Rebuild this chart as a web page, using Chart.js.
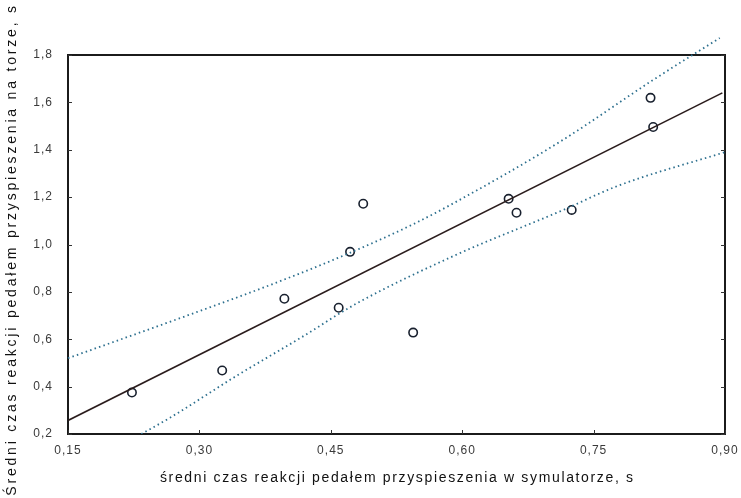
<!DOCTYPE html>
<html>
<head>
<meta charset="utf-8">
<script src="https://cdn.jsdelivr.net/npm/chart.js@4/dist/chart.umd.min.js"></script>
<style>
  html, body { margin: 0; padding: 0; background: #ffffff; }
  canvas { display: block; }
</style>
</head>
<body>
<canvas id="chart" width="741" height="498"></canvas>
<script>
// Mean reaction time on the accelerator pedal: simulator (x) vs. test track (y), seconds
const simulatorTime = [0.223, 0.326, 0.397, 0.459, 0.472, 0.487, 0.544, 0.653, 0.662, 0.725, 0.815, 0.818];
const trackTime     = [0.375, 0.468, 0.771, 0.733, 0.969, 1.172, 0.628, 1.193, 1.134, 1.146, 1.619, 1.496];

// Fitted regression line (end points)
const fitX = [0.15, 0.897];
const fitY = [0.257, 1.640];

// 95% confidence band of the fit
const upperBandX = [0.15, 0.286, 0.385, 0.472, 0.542, 0.587, 0.713, 0.816, 0.894];
const upperBandY = [0.52, 0.70, 0.835, 0.965, 1.082, 1.168, 1.437, 1.69, 1.872];
const lowerBandX = [0.229, 0.267, 0.343, 0.416, 0.479, 0.591, 0.713, 0.778, 0.90];
const lowerBandY = [0.19, 0.27, 0.447, 0.607, 0.75, 0.953, 1.142, 1.248, 1.39];

// Axis ticks
const xTickValues = [0.15, 0.30, 0.45, 0.60, 0.75, 0.90];
const xTickLabels = ['0,15', '0,30', '0,45', '0,60', '0,75', '0,90'];
const yTickValues = [0.2, 0.4, 0.6, 0.8, 1.0, 1.2, 1.4, 1.6, 1.8];
const yTickLabels = ['0,2', '0,4', '0,6', '0,8', '1,0', '1,2', '1,4', '1,6', '1,8'];

const xTitle = 'średni czas reakcji pedałem przyspieszenia w symulatorze, s';
const yTitle = 'Średni czas reakcji pedałem przyspieszenia na torze, s';

const toPoints = (xs, ys) => xs.map((x, i) => ({ x: x, y: ys[i] }));

const FONT = 'Liberation Sans, Arial, sans-serif';
const BAND_COLOR = '#2c6f8e';

// Spaced lettering for tick labels
const letterSpacingPlugin = {
  id: 'letterSpacing',
  beforeUpdate(chart) { chart.ctx.letterSpacing = '1px'; },
  beforeDraw(chart) { chart.ctx.letterSpacing = '1px'; }
};

// Draw a string centred at (cx, cy) stretched to a given width by letter spacing
function spacedText(ctx, text, cx, cy, width, rotate) {
  ctx.save();
  ctx.font = '14px ' + FONT;
  ctx.letterSpacing = '0px';
  const base = ctx.measureText(text).width;
  const spacing = Math.max(0, (width - base) / (text.length - 1));
  ctx.letterSpacing = spacing.toFixed(2) + 'px';
  ctx.fillStyle = '#111';
  ctx.textAlign = 'center';
  ctx.textBaseline = 'middle';
  ctx.translate(cx + (rotate ? 0 : spacing / 2), cy - (rotate ? -spacing / 2 : 0));
  if (rotate) ctx.rotate(-Math.PI / 2);
  ctx.fillText(text, 0, 0);
  ctx.restore();
}

// Axis titles
const axisTitlePlugin = {
  id: 'axisTitles',
  afterDraw(chart) {
    const { ctx, chartArea: a } = chart;
    spacedText(ctx, xTitle, (a.left + a.right) / 2 + 0, 478, 473, false);
    spacedText(ctx, yTitle, 12, 248, 490, true);
  }
};

// Plot frame with short inward tick marks
const framePlugin = {
  id: 'frame',
  beforeDatasetsDraw(chart) {
    const { ctx, chartArea: a, scales } = chart;
    ctx.save();
    ctx.strokeStyle = '#1b1b1b';
    ctx.lineWidth = 2;
    ctx.strokeRect(a.left, a.top, a.right - a.left, a.bottom - a.top);
    ctx.lineWidth = 1;
    ctx.strokeStyle = '#333';
    yTickValues.forEach(v => {
      const py = Math.round(scales.y.getPixelForValue(v)) + 0.5;
      ctx.beginPath();
      ctx.moveTo(a.left, py); ctx.lineTo(a.left + 4, py);
      ctx.moveTo(a.right, py); ctx.lineTo(a.right - 4, py);
      ctx.stroke();
    });
    xTickValues.forEach(v => {
      const px = Math.round(scales.x.getPixelForValue(v)) + 0.5;
      ctx.beginPath();
      ctx.moveTo(px, a.bottom); ctx.lineTo(px, a.bottom - 4);
      ctx.stroke();
    });
    ctx.restore();
  }
};

new Chart(document.getElementById('chart'), {
  type: 'scatter',
  data: {
    datasets: [
      {
        label: 'fit',
        data: toPoints(fitX, fitY),
        showLine: true,
        borderColor: '#2a1c1c',
        borderWidth: 1.6,
        pointRadius: 0,
        fill: false
      },
      {
        label: 'upper band',
        data: toPoints(upperBandX, upperBandY),
        showLine: true,
        clip: false,
        borderColor: BAND_COLOR,
        borderWidth: 1.8,
        borderDash: [1.5, 3.2],
        cubicInterpolationMode: 'monotone',
        pointRadius: 0,
        fill: false
      },
      {
        label: 'lower band',
        data: toPoints(lowerBandX, lowerBandY),
        showLine: true,
        borderColor: BAND_COLOR,
        borderWidth: 1.8,
        borderDash: [1.5, 3.2],
        cubicInterpolationMode: 'monotone',
        pointRadius: 0,
        fill: false
      },
      {
        label: 'observations',
        data: toPoints(simulatorTime, trackTime),
        pointStyle: 'circle',
        pointRadius: 4.2,
        pointBorderWidth: 1.6,
        borderColor: '#18202e',
        backgroundColor: 'rgba(0,0,0,0)'
      }
    ]
  },
  options: {
    responsive: false,
    animation: false,
    devicePixelRatio: 1,
    layout: { padding: { top: 55, right: 16, left: 0, bottom: 0 } },
    plugins: {
      legend: { display: false },
      tooltip: { enabled: false }
    },
    scales: {
      x: {
        type: 'linear',
        min: 0.15,
        max: 0.90,
        afterBuildTicks: s => { s.ticks = xTickValues.map(v => ({ value: v })); },
        afterFit: s => { s.height = 64; s.paddingLeft = 0; s.paddingRight = 0; },
        grid: { display: false, drawTicks: false },
        border: { display: false },
        ticks: {
          padding: 9,
          color: '#3a3a3a',
          font: { family: FONT, size: 12 },
          maxRotation: 0,
          callback: (v) => xTickLabels[xTickValues.findIndex(t => Math.abs(t - v) < 1e-6)]
        },
        title: { display: false }
      },
      y: {
        type: 'linear',
        min: 0.2,
        max: 1.8,
        afterBuildTicks: s => { s.ticks = yTickValues.map(v => ({ value: v })); },
        afterFit: s => { s.width = 68; s.paddingTop = 0; s.paddingBottom = 0; },
        grid: { display: false, drawTicks: false },
        border: { display: false },
        ticks: {
          padding: 15,
          color: '#3a3a3a',
          font: { family: FONT, size: 12 },
          callback: (v) => yTickLabels[yTickValues.findIndex(t => Math.abs(t - v) < 1e-6)]
        },
        title: { display: false }
      }
    }
  },
  plugins: [letterSpacingPlugin, framePlugin, axisTitlePlugin]
});
</script>
</body>
</html>
